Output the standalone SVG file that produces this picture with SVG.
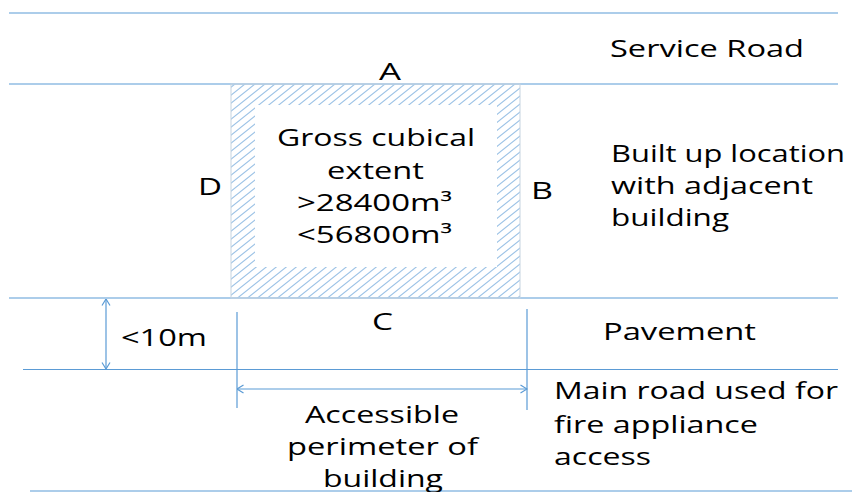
<svg xmlns="http://www.w3.org/2000/svg" width="858" height="492" viewBox="0 0 858 492">
<style>
.ln{stroke:#5b9bd5;stroke-width:1.2;fill:none}
.t{font-family:"Open Sans","Liberation Sans",sans-serif;font-size:24px;fill:#000}
</style>
<defs>
<pattern id="hatch" patternUnits="userSpaceOnUse" width="10" height="8">
<path d="M-2.5,2 L2.5,-2 M0,8 L10,0 M7.5,10 L12.5,6" stroke="#9dc3e6" stroke-width="1.1" fill="none"/>
</pattern>
<marker id="ah" viewBox="0 0 10 10" refX="9.5" refY="5" markerWidth="10" markerHeight="10" markerUnits="userSpaceOnUse" orient="auto-start-reverse">
<path d="M3,1 L9.5,5 L3,9" stroke="#5b9bd5" stroke-width="1.2" fill="none"/>
</marker>
</defs>
<rect width="858" height="492" fill="#fff"/>
<g id="roads">
<line class="ln" x1="9" y1="13" x2="838" y2="13"/>
<line class="ln" x1="9" y1="84" x2="838" y2="84"/>
<line class="ln" x1="9" y1="298" x2="838" y2="298"/>
<line class="ln" x1="23" y1="369.5" x2="838" y2="369.5"/>
<line class="ln" x1="30" y1="491" x2="852" y2="491"/>
</g>
<g id="building">
<path d="M231,84 H520 V298 H231 Z M255,105 V267 H497 V105 Z" fill="url(#hatch)" fill-rule="evenodd" stroke="none"/>
<rect x="231" y="84" width="289" height="214" fill="none" stroke="#c5d3e0" stroke-width="1"/>
<text class="t" x="277" y="146" textLength="198" lengthAdjust="spacingAndGlyphs">Gross cubical</text>
<text class="t" x="327" y="179" textLength="97" lengthAdjust="spacingAndGlyphs">extent</text>
<text class="t" x="297" y="211" textLength="155" lengthAdjust="spacingAndGlyphs">&gt;28400m³</text>
<text class="t" x="297" y="243" textLength="155" lengthAdjust="spacingAndGlyphs">&lt;56800m³</text>
</g>
<g id="labels">
<text class="t" x="379" y="80" textLength="22" lengthAdjust="spacingAndGlyphs">A</text>
<text class="t" x="198" y="195" textLength="24" lengthAdjust="spacingAndGlyphs">D</text>
<text class="t" x="531" y="199" textLength="22" lengthAdjust="spacingAndGlyphs">B</text>
<text class="t" x="372" y="330" textLength="21" lengthAdjust="spacingAndGlyphs">C</text>
</g>
<g id="road-labels">
<text class="t" x="610" y="57" textLength="194" lengthAdjust="spacingAndGlyphs">Service Road</text>
<text class="t" x="611" y="162" textLength="234" lengthAdjust="spacingAndGlyphs">Built up location</text>
<text class="t" x="611" y="194" textLength="202" lengthAdjust="spacingAndGlyphs">with adjacent</text>
<text class="t" x="611" y="226" textLength="118" lengthAdjust="spacingAndGlyphs">building</text>
<text class="t" x="603" y="340" textLength="153" lengthAdjust="spacingAndGlyphs">Pavement</text>
<text class="t" x="554" y="399" textLength="284" lengthAdjust="spacingAndGlyphs">Main road used for</text>
<text class="t" x="554" y="433" textLength="204" lengthAdjust="spacingAndGlyphs">fire appliance</text>
<text class="t" x="554" y="465" textLength="97" lengthAdjust="spacingAndGlyphs">access</text>
</g>
<g id="dimensions">
<text class="t" x="121" y="346" textLength="86" lengthAdjust="spacingAndGlyphs">&lt;10m</text>
<text class="t" x="305" y="423" textLength="154" lengthAdjust="spacingAndGlyphs">Accessible</text>
<text class="t" x="287" y="455" textLength="191" lengthAdjust="spacingAndGlyphs">perimeter of</text>
<text class="t" x="323" y="487" textLength="120" lengthAdjust="spacingAndGlyphs">building</text>
</g>
<g id="connectors">
<line class="ln" x1="106" y1="299" x2="106" y2="369" marker-start="url(#ah)" marker-end="url(#ah)"/>
<line class="ln" x1="237" y1="312" x2="237" y2="408"/>
<line class="ln" x1="527" y1="309" x2="527" y2="410"/>
<line class="ln" x1="237" y1="389" x2="527" y2="389" marker-start="url(#ah)" marker-end="url(#ah)"/>
</g>
</svg>
